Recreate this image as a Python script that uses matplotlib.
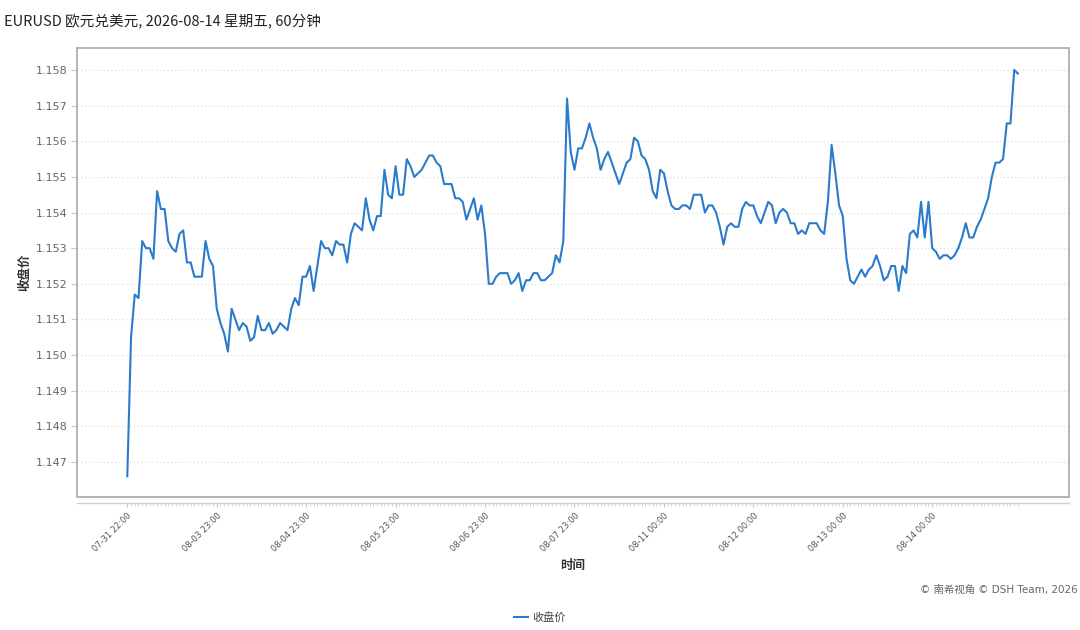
import matplotlib
matplotlib.use('Agg')
import matplotlib.pyplot as plt
from matplotlib.patches import Rectangle
from matplotlib.ticker import MultipleLocator

plt.rcParams['font.family'] = ['Noto Sans CJK SC', 'DejaVu Sans']

# 60分钟收盘价
close = [
    1.1466, 1.1505, 1.1517, 1.1516, 1.1532, 1.1530, 1.1530, 1.1527, 1.1546, 1.1541, 1.1541, 1.1532,
    1.1530, 1.1529, 1.1534, 1.1535, 1.1526, 1.1526, 1.1522, 1.1522, 1.1522, 1.1532, 1.1527, 1.1525,
    1.1513, 1.1509, 1.1506, 1.1501, 1.1513, 1.1510, 1.1507, 1.1509, 1.1508, 1.1504, 1.1505, 1.1511,
    1.1507, 1.1507, 1.1509, 1.1506, 1.1507, 1.1509, 1.1508, 1.1507, 1.1513, 1.1516, 1.1514, 1.1522,
    1.1522, 1.1525, 1.1518, 1.1525, 1.1532, 1.1530, 1.1530, 1.1528, 1.1532, 1.1531, 1.1531, 1.1526,
    1.1534, 1.1537, 1.1536, 1.1535, 1.1544, 1.1538, 1.1535, 1.1539, 1.1539, 1.1552, 1.1545, 1.1544,
    1.1553, 1.1545, 1.1545, 1.1555, 1.1553, 1.1550, 1.1551, 1.1552, 1.1554, 1.1556, 1.1556, 1.1554,
    1.1553, 1.1548, 1.1548, 1.1548, 1.1544, 1.1544, 1.1543, 1.1538, 1.1541, 1.1544, 1.1538, 1.1542,
    1.1534, 1.1520, 1.1520, 1.1522, 1.1523, 1.1523, 1.1523, 1.1520, 1.1521, 1.1523, 1.1518, 1.1521,
    1.1521, 1.1523, 1.1523, 1.1521, 1.1521, 1.1522, 1.1523, 1.1528, 1.1526, 1.1532, 1.1572, 1.1557,
    1.1552, 1.1558, 1.1558, 1.1561, 1.1565, 1.1561, 1.1558, 1.1552, 1.1555, 1.1557, 1.1554, 1.1551,
    1.1548, 1.1551, 1.1554, 1.1555, 1.1561, 1.1560, 1.1556, 1.1555, 1.1552, 1.1546, 1.1544, 1.1552,
    1.1551, 1.1546, 1.1542, 1.1541, 1.1541, 1.1542, 1.1542, 1.1541, 1.1545, 1.1545, 1.1545, 1.1540,
    1.1542, 1.1542, 1.1540, 1.1536, 1.1531, 1.1536, 1.1537, 1.1536, 1.1536, 1.1541, 1.1543, 1.1542,
    1.1542, 1.1539, 1.1537, 1.1540, 1.1543, 1.1542, 1.1537, 1.1540, 1.1541, 1.1540, 1.1537, 1.1537,
    1.1534, 1.1535, 1.1534, 1.1537, 1.1537, 1.1537, 1.1535, 1.1534, 1.1543, 1.1559, 1.1551, 1.1542,
    1.1539, 1.1527, 1.1521, 1.1520, 1.1522, 1.1524, 1.1522, 1.1524, 1.1525, 1.1528, 1.1525, 1.1521,
    1.1522, 1.1525, 1.1525, 1.1518, 1.1525, 1.1523, 1.1534, 1.1535, 1.1533, 1.1543, 1.1533, 1.1543,
    1.1530, 1.1529, 1.1527, 1.1528, 1.1528, 1.1527, 1.1528, 1.1530, 1.1533, 1.1537, 1.1533, 1.1533,
    1.1536, 1.1538, 1.1541, 1.1544, 1.1550, 1.1554, 1.1554, 1.1555, 1.1565, 1.1565, 1.1580, 1.1579,
]

tick_labels = ['07-31 22:00', '08-03 23:00', '08-04 23:00', '08-05 23:00', '08-06 23:00',
               '08-07 23:00', '08-11 00:00', '08-12 00:00', '08-13 00:00', '08-14 00:00']
tick_step = 24

x = list(range(len(close)))

fig = plt.figure(figsize=(10.8, 6.3), dpi=100)
ax = fig.add_axes([0.0713, 0.2111, 0.9185, 0.7127])

ax.plot(x, close, color='#2b7bcc', linewidth=1.5, label='收盘价')

ax.set_xlim(-13.5, 252.7)
ax.set_ylim(1.146018, 1.158617)

# 网格
ax.yaxis.set_major_locator(MultipleLocator(0.001))
ax.yaxis.set_major_formatter(matplotlib.ticker.FormatStrFormatter('%.3f'))
ax.grid(axis='y', color='#dedede', linestyle=(0, (1, 2)), linewidth=0.9)

# 边框
for s in ['top', 'right', 'left']:
    ax.spines[s].set_visible(False)
ax.add_patch(Rectangle((0, 0), 1, 1, transform=ax.transAxes, fill=False,
                       edgecolor='#b4b4b4', linewidth=1.4, clip_on=False, zorder=5))
ax.spines['bottom'].set_position(('outward', 4))
ax.spines['bottom'].set_color('#d0d0d0')
ax.spines['bottom'].set_linewidth(1.0)

ax.set_xticks([i * tick_step for i in range(len(tick_labels))])
ax.set_xticklabels(tick_labels, rotation=45, ha='right', rotation_mode='anchor',
                   fontsize=6, color='#555555', family='DejaVu Sans')
ax.set_xticks(x, minor=True)
ax.tick_params(axis='x', which='major', length=3, color='#c8c8c8', pad=3)
ax.tick_params(axis='x', which='minor', length=2, color='#d0d0d0', width=0.6)
ax.tick_params(axis='y', length=4, color='#c8c8c8', labelsize=8, labelcolor='#666666', pad=3)
for lab in ax.get_yticklabels():
    lab.set_family('DejaVu Sans')

ax.set_xlabel('时间', fontsize=9, fontweight='bold', color='#333333', labelpad=4)
ax.set_ylabel('收盘价', fontsize=9, fontweight='bold', color='#333333', labelpad=3)

fig.text(0.004, 0.966, 'EURUSD 欧元兑美元, 2026-08-14 星期五, 60分钟', fontsize=10.5,
         color='#222222', ha='left', va='center')
fig.text(0.998, 0.064, '© 南希视角 © DSH Team, 2026', fontsize=7.5, color='#666666',
         ha='right', va='center', family=['DejaVu Sans', 'Noto Sans CJK SC'])

fig.legend(loc='center', bbox_to_anchor=(0.5, 0.02), frameon=False, fontsize=8,
           handlelength=1.3, handletextpad=0.4, labelcolor='#444444')

fig.savefig('out.png', dpi=100)
